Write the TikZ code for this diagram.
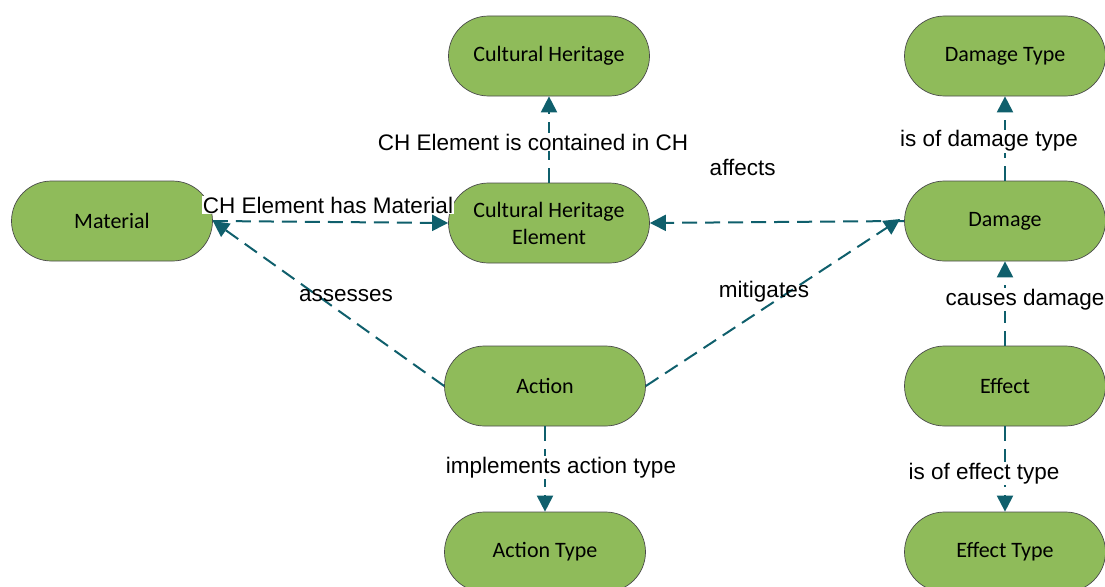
\documentclass[tikz,border=0pt]{standalone}
\usepackage{fontspec}
\setmainfont{Liberation Sans}
\newfontfamily\nodefont{Carlito}
\usetikzlibrary{arrows.meta}
\definecolor{pillgreen}{HTML}{8FBB5A}
\definecolor{pilledge}{HTML}{4A4A4A}
\definecolor{linkteal}{HTML}{0F5F6C}
\begin{document}
\begin{tikzpicture}[x=1pt,y=-1pt,
  pill/.style={draw=pilledge, line width=0.7pt, fill=pillgreen,
    rounded corners=40pt, minimum width=201pt, minimum height=80pt,
    inner sep=0pt, align=center, font=\nodefont\fontsize{22}{27}\selectfont},
  link/.style={draw=linkteal, line width=2pt, dash pattern=on 15pt off 8pt,
    -{Triangle[length=16pt,width=16pt]}},
  lbl/.style={fill=white, inner sep=1pt, text=black,
    font=\fontsize{22.5}{26}\selectfont}]
\useasboundingbox (0,0) rectangle (1105,586);

% classes
\node[pill] (ch)   at (549,56)  {Cultural Heritage};
\node[pill] (dt)   at (1005,56) {Damage Type};
\node[pill] (mat)  at (112,221) {Material};
\node[pill] (che)  at (549,223) {Cultural Heritage\\Element};
\node[pill] (dmg)  at (1005,221) {Damage};
\node[pill] (act)  at (545,386) {Action};
\node[pill] (eff)  at (1005,386) {Effect};
\node[pill] (at)   at (545,552) {Action Type};
\node[pill] (et)   at (1005,552) {Effect Type};

% relations
\draw[link] (che.north) -- node[lbl, xshift=-16pt, pos=0.47] {CH Element is contained in CH} (ch.south);
\draw[link] (dmg.north) -- node[lbl, xshift=-16pt, pos=0.47] {is of damage type} (dt.south);
\draw[link] (eff.north) -- node[lbl, xshift=20pt, pos=0.55] {causes damage} (dmg.south);
\draw[link] (act.south) -- node[lbl, xshift=16pt, pos=0.48] {implements action type} (at.north);
\draw[link] (eff.south) -- node[lbl, xshift=-21pt, pos=0.55] {is of effect type} (et.north);
\draw[link] (mat.east) -- (che.west);
\node[lbl, inner sep=0.5pt] (lmat) at (328,205) {CH Element has Material};
\draw[link] (dmg.west) -- node[pos=0.635, yshift=55pt, font=\fontsize{22.5}{26}\selectfont] {affects} (che.east);
\draw[link] (act.west) -- (mat.east);
\node[lbl, fill=none] (lass) at (346,296) {assesses};
\draw[link] (act.east) -- ([xshift=-4pt,yshift=2pt]dmg.west);
\node[lbl, fill=none] (lmit) at (764,292) {mitigates};
\end{tikzpicture}
\end{document}
